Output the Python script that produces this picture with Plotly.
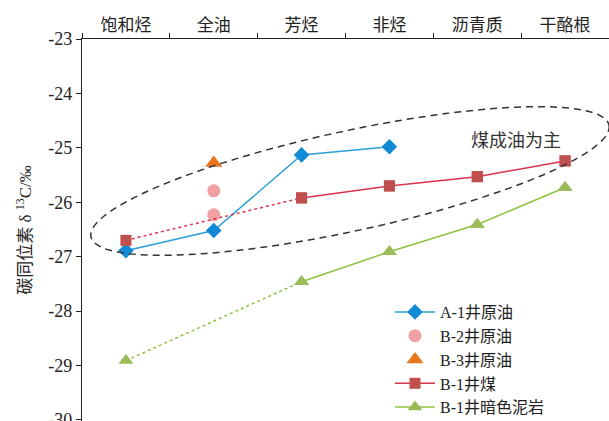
import math
import plotly.graph_objects as go

categories = ["饱和烃", "全油", "芳烃", "非烃", "沥青质", "干酪根"]
a1_oil = [-26.89, -26.52, -25.13, -24.98, None, None]
b2_oil = [None, -25.79, None, None, None, None]
b2_oil_2 = [None, -26.23, None, None, None, None]
b3_oil = [None, -25.28, None, None, None, None]
b1_coal = [-26.70, None, -25.92, -25.70, -25.53, -25.24]
b1_mud = [-28.91, None, -27.46, -26.91, -26.41, -25.73]
y_ticks = [-30, -29, -28, -27, -26, -25, -24, -23]
y_ticktext = ["-30", "-29", "-28", "-27", "-26", "-25", "-24", "-23"]

W, H = 609, 421
ML, MT = 82, 39
PW, PH = W - ML, H - MT

SERIF = "Liberation Serif, Noto Sans CJK SC"
fig = go.Figure()

blue_line, blue_mk = "#2a9fd8", "#1089d6"
red_line, red_mk = "#d9334f", "#c0504d"
green_line, green_mk = "#8dc23f", "#9bbb59"

def split_dotted(vals, k=2):
    dotted = [v if i <= k else None for i, v in enumerate(vals)]
    solid = [v if i >= k else None for i, v in enumerate(vals)]
    return dotted, solid

# A-1
fig.add_trace(go.Scatter(x=categories, y=a1_oil, name="A-1井原油", mode="lines+markers",
                         line=dict(color=blue_line, width=1.5),
                         marker=dict(symbol="diamond", size=12, color=blue_mk)))
# B-2
fig.add_trace(go.Scatter(x=categories + categories, y=b2_oil + b2_oil_2, name="B-2井原油", mode="markers",
                         marker=dict(symbol="circle", size=13, color="#f0a0a2")))
# B-3
fig.add_trace(go.Scatter(x=categories, y=b3_oil, name="B-3井原油", mode="markers",
                         marker=dict(symbol="triangle-up", size=15, color="#e8761f")))
# B-1 coal
d, s = split_dotted(b1_coal)
fig.add_trace(go.Scatter(x=categories, y=d, mode="lines", connectgaps=True, showlegend=False,
                         line=dict(color=red_line, width=1.5, dash="dot")))
fig.add_trace(go.Scatter(x=categories, y=b1_coal, name="B-1井煤", mode="markers",
                         showlegend=False, marker=dict(symbol="square", size=11, color=red_mk)))
fig.add_trace(go.Scatter(x=categories, y=s, name="B-1井煤", mode="lines+markers",
                         line=dict(color=red_line, width=1.5),
                         marker=dict(symbol="square", size=11, color=red_mk)))
# B-1 mudstone
d, s = split_dotted(b1_mud)
fig.add_trace(go.Scatter(x=categories, y=d, mode="lines", connectgaps=True, showlegend=False,
                         line=dict(color=green_line, width=1.5, dash="dot")))
fig.add_trace(go.Scatter(x=categories, y=b1_mud, mode="markers", showlegend=False,
                         marker=dict(symbol="triangle-up", size=13, color=green_mk)))
fig.add_trace(go.Scatter(x=categories, y=s, name="B-1井暗色泥岩", mode="lines+markers",
                         line=dict(color=green_line, width=1.5),
                         marker=dict(symbol="triangle-up", size=13, color=green_mk)))

# dashed ellipse (pixel geometry -> paper coords)
cx, cy, ea, eb, phi = 350, 181, 265, 50, math.radians(12.2)
ux, uy = math.cos(phi), -math.sin(phi)
nx, ny = math.sin(phi), math.cos(phi)
pts = []
for k in range(121):
    t = 2 * math.pi * k / 120
    px = cx + ea * math.cos(t) * ux + eb * math.sin(t) * nx
    py = cy + ea * math.cos(t) * uy + eb * math.sin(t) * ny
    pts.append(((px - ML) / PW, 1 - (py - MT) / PH))
path = "M " + " L ".join(f"{x:.4f},{y:.4f}" for x, y in pts) + " Z"
fig.add_shape(type="path", path=path, xref="paper", yref="paper",
              line=dict(color="#333333", width=1.5, dash="7px,5px"))

fig.add_annotation(text="煤成油为主", x=(516 - ML) / PW, y=1 - (139 - MT) / PH,
                   xref="paper", yref="paper", showarrow=False,
                   xanchor="center", yanchor="middle",
                   font=dict(family="Noto Sans CJK SC", size=18, color="#333"))

fig.update_layout(
    width=W, height=H,
    margin=dict(l=ML, r=0, t=MT, b=0, autoexpand=False),
    plot_bgcolor="white", paper_bgcolor="white",
    font=dict(family=SERIF, size=17, color="#222"),
    showlegend=True,
    legend=dict(x=(390 - ML) / PW, y=1 - (295 - MT) / PH, xanchor="left", yanchor="top",
                bgcolor="rgba(0,0,0,0)", font=dict(family=SERIF, size=16, color="#222"),
                tracegroupgap=0, itemwidth=40),
    xaxis=dict(side="top", type="category", categoryorder="array", categoryarray=categories,
               range=[-0.5, 5.5], showline=True, linecolor="#222", linewidth=1.2,
               ticks="outside", tickson="boundaries", ticklen=5, tickcolor="#222",
               showgrid=False, zeroline=False, automargin=False,
               tickfont=dict(family="Noto Sans CJK SC", size=17, color="#222")),
    yaxis=dict(range=[-30.02, -23.0], tickmode="array", tickvals=y_ticks, ticktext=y_ticktext,
               showline=True, linecolor="#222", linewidth=1.2, automargin=False,
               ticklabeloverflow="allow",
               ticks="outside", ticklen=5, tickcolor="#222", showgrid=False, zeroline=False,
               tickfont=dict(family="Liberation Serif", size=18, color="#222"),
               title=dict(text="碳同位素 δ <sup>13</sup>C/‰", standoff=12,
                          font=dict(family=SERIF, size=17, color="#222"))),
)

fig.write_html("out.html")
